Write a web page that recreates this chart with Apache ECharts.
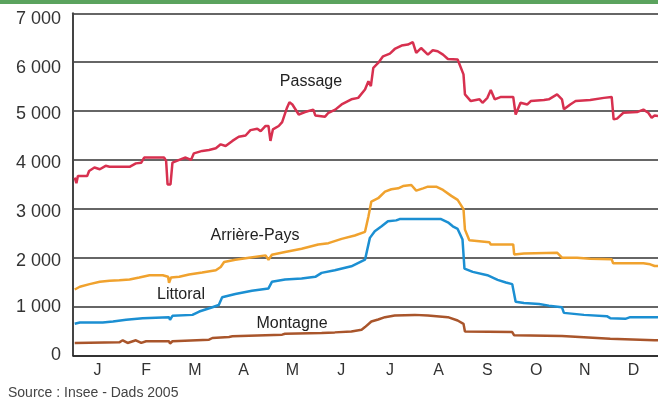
<!DOCTYPE html>
<html>
<head>
<meta charset="utf-8">
<script src="https://cdn.jsdelivr.net/npm/echarts@6/dist/echarts.min.js"></script>
<style>
  html, body { margin: 0; padding: 0; background: #fff; }
  #chart { width: 658px; height: 401px; }
</style>
</head>
<body>
<div id="chart"></div>
<script>
// mois (0 = début janvier, 12 = fin décembre) et effectifs
var months = ['J', 'F', 'M', 'A', 'M', 'J', 'J', 'A', 'S', 'O', 'N', 'D'];
var yTicks = [0, 1000, 2000, 3000, 4000, 5000, 6000, 7000];

var passageMonth = [0.035, 0.07, 0.10, 0.29, 0.33, 0.44, 0.55, 0.67, 0.75, 1.16, 1.29, 1.40, 1.46, 1.87, 1.91, 1.94, 2.00, 2.04, 2.18, 2.31, 2.42, 2.48, 2.65, 2.79, 2.93, 3.03, 3.13, 3.27, 3.40, 3.54, 3.64, 3.78, 3.85, 3.95, 4.01, 4.05, 4.10, 4.22, 4.29, 4.39, 4.44, 4.50, 4.63, 4.76, 4.93, 4.97, 5.17, 5.24, 5.38, 5.51, 5.71, 5.85, 5.99, 6.06, 6.11, 6.16, 6.26, 6.36, 6.50, 6.60, 6.74, 6.87, 6.97, 7.04, 7.14, 7.28, 7.38, 7.48, 7.59, 7.69, 7.89, 8.01, 8.04, 8.16, 8.34, 8.40, 8.50, 8.57, 8.65, 8.78, 9.03, 9.08, 9.18, 9.32, 9.39, 9.66, 9.76, 9.93, 10.03, 10.07, 10.20, 10.31, 10.61, 10.89, 11.05, 11.09, 11.16, 11.29, 11.57, 11.70, 11.80, 11.87, 11.93, 12.0];
var passageValue = [3640, 3525, 3670, 3670, 3775, 3845, 3810, 3880, 3860, 3860, 3930, 3945, 4050, 4050, 3980, 3500, 3500, 3945, 4000, 4050, 4000, 4135, 4185, 4205, 4240, 4320, 4285, 4390, 4475, 4500, 4610, 4640, 4590, 4695, 4695, 4390, 4625, 4695, 4775, 5070, 5180, 5135, 4930, 4980, 5030, 4910, 4885, 4965, 5030, 5135, 5240, 5270, 5440, 5610, 5510, 5885, 5985, 6120, 6175, 6270, 6340, 6360, 6410, 6190, 6290, 6155, 6245, 6225, 6155, 6065, 6055, 5750, 5340, 5205, 5240, 5170, 5270, 5430, 5240, 5290, 5290, 4930, 5170, 5135, 5205, 5225, 5240, 5340, 5240, 5035, 5135, 5205, 5225, 5270, 5290, 4830, 4845, 4965, 4980, 5030, 4965, 4865, 4910, 4900];

var arriereMonth = [0.035, 0.14, 0.34, 0.55, 0.75, 0.95, 1.16, 1.36, 1.57, 1.84, 1.95, 1.97, 2.01, 2.18, 2.38, 2.65, 2.93, 3.03, 3.10, 3.33, 3.61, 3.95, 4.01, 4.08, 4.35, 4.69, 5.03, 5.24, 5.51, 5.78, 5.99, 6.06, 6.12, 6.26, 6.40, 6.53, 6.67, 6.77, 6.94, 7.04, 7.18, 7.28, 7.45, 7.59, 7.76, 7.89, 8.01, 8.04, 8.13, 8.54, 8.57, 9.03, 9.05, 9.25, 9.93, 10.03, 10.34, 10.61, 11.05, 11.08, 11.70, 11.84, 11.93, 12.0];
var arriereValue = [1350, 1406, 1460, 1507, 1528, 1541, 1555, 1595, 1643, 1643, 1610, 1487, 1595, 1610, 1656, 1697, 1744, 1812, 1913, 1960, 2000, 2048, 1960, 2062, 2116, 2183, 2271, 2298, 2386, 2454, 2530, 2845, 3150, 3217, 3352, 3400, 3420, 3467, 3488, 3373, 3420, 3454, 3454, 3386, 3265, 3183, 2994, 2575, 2359, 2318, 2271, 2271, 2068, 2088, 2102, 2000, 2000, 1980, 1967, 1886, 1886, 1865, 1831, 1830];

var littoralMonth = [0.035, 0.14, 0.61, 0.82, 1.09, 1.43, 1.97, 1.99, 2.04, 2.45, 2.59, 2.86, 2.99, 3.06, 3.33, 3.67, 4.01, 4.08, 4.35, 4.69, 4.97, 5.10, 5.37, 5.71, 5.99, 6.09, 6.19, 6.33, 6.46, 6.63, 6.70, 7.55, 7.69, 7.79, 7.89, 7.99, 8.03, 8.20, 8.50, 8.71, 8.88, 9.01, 9.08, 9.25, 9.56, 9.76, 10.03, 10.07, 10.48, 10.95, 11.02, 11.33, 11.43, 11.93, 12.0];
var littoralValue = [649, 676, 676, 696, 730, 764, 784, 730, 811, 831, 899, 987, 1034, 1190, 1257, 1325, 1372, 1507, 1555, 1575, 1609, 1690, 1744, 1825, 1960, 2406, 2541, 2643, 2744, 2764, 2791, 2791, 2724, 2643, 2589, 2372, 1777, 1710, 1642, 1548, 1493, 1460, 1101, 1074, 1054, 1020, 986, 872, 831, 804, 763, 750, 784, 784, 780];

var montagneMonth = [0.035, 0.95, 1.02, 1.12, 1.29, 1.40, 1.50, 1.97, 1.99, 2.04, 2.79, 2.86, 3.20, 3.27, 4.29, 4.35, 5.10, 5.37, 5.71, 5.92, 5.99, 6.12, 6.26, 6.40, 6.60, 7.01, 7.28, 7.69, 7.89, 8.01, 8.04, 9.01, 9.05, 10.03, 10.07, 11.02, 11.05, 11.93, 12.0];
var montagneValue = [257, 270, 311, 257, 311, 257, 291, 291, 243, 291, 324, 358, 378, 392, 426, 446, 460, 473, 493, 527, 581, 696, 736, 784, 817, 831, 817, 784, 716, 648, 493, 479, 412, 398, 358, 344, 310, 310, 310];

function pairs(xs, ys) {
	return xs.map(function (x, i) { return [x, ys[i]]; });
}

function fmtThousands(v) {
	return String(v).replace(/\B(?=(\d{3})+(?!\d))/g, ' ');
}

function lineSeries(name, xs, ys, color) {
	return {
		name: name,
		type: 'line',
		xAxisIndex: 1,
		data: pairs(xs, ys),
		showSymbol: false,
		silent: true,
		lineStyle: { color: color, width: 2.5 },
		z: 3
	};
}

var chart = echarts.init(document.getElementById('chart'), null, { renderer: 'canvas' });

var labelFont = 'Liberation Sans, Arial, sans-serif';

// dans l'original les libellés de l'axe vertical sont un peu plus bas que leur ligne
function yLabelStyle(v) {
	if (v >= 6000) return 'd6';
	if (v <= 1000) return 'd0';
	return 'd3';
}

var option = {
	animation: false,
	backgroundColor: '#fff',
	grid: { left: 73, right: -3, top: 13.3, bottom: 45.5 },
	xAxis: [{
		type: 'category',
		data: months,
		boundaryGap: true,
		axisLine: { lineStyle: { color: '#222', width: 1.5 } },
		axisTick: { length: 6, lineStyle: { color: '#222', width: 1.2 } },
		axisLabel: { color: '#333', fontSize: 16, fontFamily: labelFont, margin: 7 },
		splitLine: { show: false }
	}, {
		type: 'value',
		min: 0,
		max: 12,
		show: false
	}],
	yAxis: {
		type: 'value',
		min: yTicks[0],
		max: yTicks[yTicks.length - 1],
		interval: 1000,
		axisLine: { show: true, lineStyle: { color: '#444', width: 2 } },
		axisTick: { show: false },
		axisLabel: {
			color: '#333', fontSize: 18, fontFamily: labelFont, margin: 12,
			formatter: function (v) { return '{' + yLabelStyle(v) + '|' + fmtThousands(v) + '}'; },
			rich: {
				d0: { fontSize: 18, color: '#333', fontFamily: labelFont, padding: [0, 0, 0, 0] },
				d3: { fontSize: 18, color: '#333', fontFamily: labelFont, padding: [6, 0, 0, 0] },
				d6: { fontSize: 18, color: '#333', fontFamily: labelFont, padding: [12, 0, 0, 0] }
			}
		},
		splitLine: { lineStyle: { color: '#333', width: 1.5 } }
	},
	series: [
		lineSeries('Montagne', montagneMonth, montagneValue, '#a9552b'),
		lineSeries('Littoral', littoralMonth, littoralValue, '#1b8fd2'),
		lineSeries('Arrière-Pays', arriereMonth, arriereValue, '#f0a22e'),
		lineSeries('Passage', passageMonth, passageValue, '#d7304f')
	],
	graphic: [
		{ type: 'rect', left: 0, top: 0, shape: { width: 658, height: 4 }, style: { fill: '#5ba35e' } },
		{ type: 'text', x: 311, y: 82, style: { text: 'Passage', fill: '#222', font: '16px ' + labelFont, align: 'center', verticalAlign: 'middle' } },
		{ type: 'text', x: 255, y: 236, style: { text: 'Arrière-Pays', fill: '#222', font: '16px ' + labelFont, align: 'center', verticalAlign: 'middle' } },
		{ type: 'text', x: 181, y: 295, style: { text: 'Littoral', fill: '#222', font: '16px ' + labelFont, align: 'center', verticalAlign: 'middle' } },
		{ type: 'text', x: 292, y: 324, style: { text: 'Montagne', fill: '#222', font: '16px ' + labelFont, align: 'center', verticalAlign: 'middle' } },
		{ type: 'text', x: 8, y: 393, style: { text: 'Source : Insee - Dads 2005', fill: '#444', font: '14px ' + labelFont, align: 'left', verticalAlign: 'middle' } }
	]
};

chart.setOption(option);
</script>
</body>
</html>
